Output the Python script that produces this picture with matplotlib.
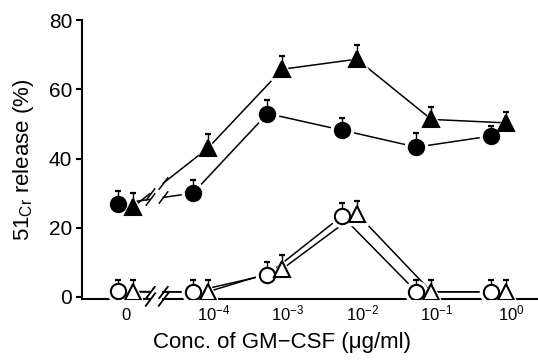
import numpy as np
import matplotlib.pyplot as plt
import matplotlib.transforms as mtransforms

plt.rcParams['font.family'] = ['Liberation Sans', 'DejaVu Sans']
plt.rcParams['mathtext.fontset'] = 'custom'
plt.rcParams['mathtext.rm'] = 'Liberation Sans'
plt.rcParams['mathtext.it'] = 'Liberation Sans:italic'
plt.rcParams['mathtext.default'] = 'regular'

# GM-CSF concentration (ug/ml); 0 is drawn one decade left of 1e-4, behind an axis break
conc = [0, 1e-4, 1e-3, 1e-2, 1e-1, 1]
conc_labels = ['0', '$10^{-4}$', '$10^{-3}$', '$10^{-2}$', '$10^{-1}$', '$10^{0}$']

# 51Cr release (%), mean and upper error
filled_circle = [26.9, 30.0, 53.0, 48.2, 43.3, 46.5]
filled_circle_err = [3.8, 3.8, 3.8, 3.5, 4.0, 3.0]
filled_tri = [26.1, 43.0, 65.8, 68.7, 51.3, 50.3]
filled_tri_err = [4.0, 4.0, 3.8, 4.0, 3.5, 3.0]
open_circle = [1.6, 1.5, 6.4, 23.4, 1.5, 1.5]
open_circle_err = [3.4, 3.4, 3.8, 3.8, 3.4, 3.4]
open_tri = [1.5, 1.5, 8.1, 24.1, 1.5, 1.5]
open_tri_err = [3.4, 3.4, 4.0, 3.5, 3.4, 3.4]

pos = np.array([np.log10(c) if c > 0 else -5.0 for c in conc])
gap = (-4.68, -4.50)
y0 = -0.7
slash = [(-0.75, -1.0), (0.75, 1.0)]

fig = plt.figure(figsize=(5.38, 3.6), dpi=100)
ax = fig.add_axes([0.1524, 0.1683, 0.846, 0.776])
xmin, xmax = -5.59, 0.52
ax.set_xlim(xmin, xmax)
ax.set_ylim(y0, 80)


def draw(ys, err, marker, face, shift):
    xs = pos + shift
    ys = np.array(ys)
    lw = 1.1
    # first segment is broken where the axis is broken
    yg = np.interp(gap, [xs[0], xs[1]], [ys[0], ys[1]])
    ax.plot([xs[0], gap[0]], [ys[0], yg[0]], color='k', lw=lw, zorder=1)
    ax.plot([gap[1], xs[1]], [yg[1], ys[1]], color='k', lw=lw, zorder=1)
    ax.plot(gap, yg, ls='none', marker=slash, ms=9, mec='k', mew=1.1, zorder=1)
    ax.plot(xs[1:], ys[1:], color='k', lw=lw, zorder=1)
    # white halo so lines stop short of the symbols
    ms = 11 if marker == 'o' else 11.5
    ax.plot(xs, ys, ls='none', marker=marker, ms=ms + 5, mfc='white', mec='white', zorder=2)
    ax.errorbar(xs, ys, yerr=[np.zeros(len(ys)), err], fmt='none', ecolor='k',
                elinewidth=1.0, capsize=2.3, capthick=1.6, zorder=3)
    ax.plot(xs, ys, ls='none', marker=marker, ms=ms, mfc=face, mec='k', mew=1.5, zorder=4)


draw(open_circle, open_circle_err, 'o', 'white', -0.1)
draw(open_tri, open_tri_err, '^', 'white', 0.1)
draw(filled_circle, filled_circle_err, 'o', 'k', -0.1)
draw(filled_tri, filled_tri_err, '^', 'k', 0.1)

# axes
for s in ['top', 'right', 'bottom']:
    ax.spines[s].set_visible(False)
ax.spines['left'].set_linewidth(1.5)
ax.plot([xmin, gap[0]], [y0, y0], color='k', lw=1.5, clip_on=False, zorder=1)
ax.plot([gap[1], xmax], [y0, y0], color='k', lw=1.5, clip_on=False, zorder=1)
ax.plot(gap, [y0, y0], ls='none', marker=slash, ms=10, mec='k', mew=1.3, clip_on=False)

ax.set_yticks([0, 20, 40, 60, 80])
ax.tick_params(axis='y', direction='out', length=4, width=1.5, labelsize=15, pad=3)
ax.set_xticks(pos)
ax.set_xticklabels(conc_labels)
ax.tick_params(axis='x', length=0, labelsize=12, pad=15)
shift = mtransforms.ScaledTranslation(0.13, 0, fig.dpi_scale_trans)
for i, lab in enumerate(ax.get_xticklabels()):
    lab.set_verticalalignment('baseline')
    if i > 0:
        lab.set_transform(lab.get_transform() + shift)

ax.set_ylabel('$51_{Cr}$ release (%)', fontsize=16)
ax.yaxis.set_label_coords(-0.1, 0.5)
ax.set_xlabel('Conc. of GM\u2212CSF (\u03bcg/ml)', fontsize=16)
ax.xaxis.set_label_coords(0.44, -0.115)

fig.savefig('out.png', dpi=100)
